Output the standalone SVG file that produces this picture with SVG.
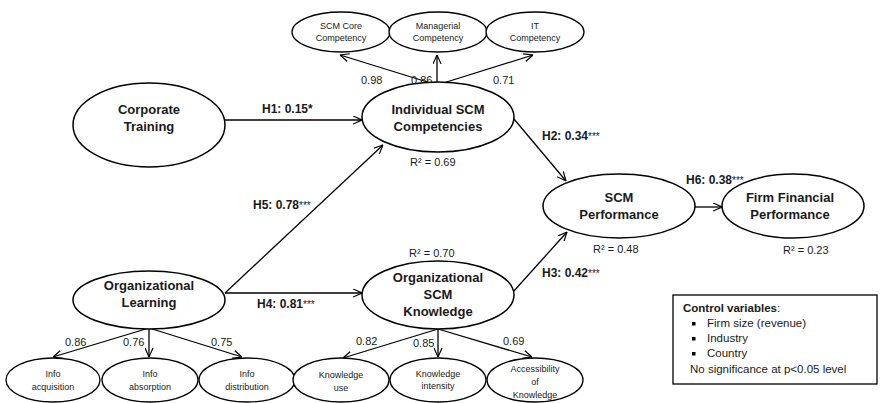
<svg xmlns="http://www.w3.org/2000/svg" width="880" height="403" viewBox="0 0 880 403">
<defs>
<style>
.e{fill:#fff;stroke:#000;stroke-width:1.5}
.es{fill:#fff;stroke:#000;stroke-width:1.3}
.c{fill:none;stroke:#000;stroke-width:1.3}
.b{font-family:"Liberation Sans",Arial,sans-serif;font-weight:bold;font-size:13px;text-anchor:middle;fill:#1a1a1a}
.s{font-family:"Liberation Sans",Arial,sans-serif;font-size:9px;text-anchor:middle;fill:#1a1a1a}
.n{font-family:"Liberation Sans",Arial,sans-serif;font-size:11px;fill:#1a1a1a}
.h{font-family:"Liberation Sans",Arial,sans-serif;font-size:12px;font-weight:bold;fill:#1a1a1a}
.st{font-weight:normal;font-size:10px}
.cv{font-family:"Liberation Sans",Arial,sans-serif;font-size:11.5px;fill:#1a1a1a}
</style>
<marker id="arr" viewBox="0 0 10 10" refX="10" refY="5" markerWidth="9" markerHeight="9" orient="auto" markerUnits="userSpaceOnUse">
<path d="M0,0.5 L10,5 L0,9.5" fill="none" stroke="#000" stroke-width="1.3"/>
</marker>
</defs>
<rect width="880" height="403" fill="#fff"/>

<g id="connectors">
<path class="c" d="M225,120 L362,120" marker-end="url(#arr)"/>
<path class="c" d="M514,119 L566,181" marker-end="url(#arr)"/>
<path class="c" d="M513,292 L567,232" marker-end="url(#arr)"/>
<path class="c" d="M695,207 L722,207" marker-end="url(#arr)"/>
<path class="c" d="M225,293 L383,145" marker-end="url(#arr)"/>
<path class="c" d="M225,293 L362,293" marker-end="url(#arr)"/>
<path class="c" d="M437,85 L340,55" marker-end="url(#arr)"/>
<path class="c" d="M437,85 L437,55" marker-end="url(#arr)"/>
<path class="c" d="M437,85 L533,55" marker-end="url(#arr)"/>
<path class="c" d="M149,328 L53,357" marker-end="url(#arr)"/>
<path class="c" d="M149,328 L149,357" marker-end="url(#arr)"/>
<path class="c" d="M149,328 L242,357" marker-end="url(#arr)"/>
<path class="c" d="M438,329 L343,358" marker-end="url(#arr)"/>
<path class="c" d="M438,329 L438,357" marker-end="url(#arr)"/>
<path class="c" d="M438,329 L532,357" marker-end="url(#arr)"/>
</g>

<g id="labels">
<text class="h" x="262" y="113">H1: 0.15*</text>
<text class="h" x="542" y="140">H2: 0.34<tspan class="st">***</tspan></text>
<text class="h" x="542" y="277">H3: 0.42<tspan class="st">***</tspan></text>
<text class="h" x="257" y="308">H4: 0.81<tspan class="st">***</tspan></text>
<text class="h" x="253" y="209">H5: 0.78<tspan class="st">***</tspan></text>
<text class="h" x="686" y="184">H6: 0.38<tspan class="st">***</tspan></text>
<text class="n" x="361" y="84">0.98</text>
<text class="n" x="411" y="84">0.86</text>
<text class="n" x="493" y="84">0.71</text>
<text class="n" x="65" y="346">0.86</text>
<text class="n" x="123" y="346">0.76</text>
<text class="n" x="211" y="346">0.75</text>
<text class="n" x="356" y="345">0.82</text>
<text class="n" x="413" y="347">0.85</text>
<text class="n" x="503" y="345">0.69</text>
<text class="n" x="410" y="166">R² = 0.69</text>
<text class="n" x="409" y="257">R² = 0.70</text>
<text class="n" x="593" y="253">R² = 0.48</text>
<text class="n" x="783" y="254">R² = 0.23</text>
</g>

<g id="corporate-training">
<ellipse class="e" cx="149" cy="125" rx="76" ry="42"/>
<text class="b" x="149" y="114">Corporate</text>
<text class="b" x="149" y="131">Training</text>
</g>
<g id="individual-scm">
<ellipse class="e" cx="438" cy="117" rx="76" ry="35"/>
<text class="b" x="438" y="114">Individual SCM</text>
<text class="b" x="438" y="131">Competencies</text>
</g>
<g id="scm-performance">
<ellipse class="e" cx="619" cy="206" rx="76" ry="32"/>
<text class="b" x="619" y="202">SCM</text>
<text class="b" x="619" y="219">Performance</text>
</g>
<g id="firm-financial">
<ellipse class="e" cx="793" cy="206" rx="71" ry="32"/>
<text class="b" x="790" y="202">Firm Financial</text>
<text class="b" x="790" y="219">Performance</text>
</g>
<g id="org-learning">
<ellipse class="e" cx="149" cy="300" rx="76" ry="29"/>
<text class="b" x="149" y="290">Organizational</text>
<text class="b" x="149" y="307">Learning</text>
</g>
<g id="org-scm-knowledge">
<ellipse class="e" cx="438" cy="295" rx="76" ry="34"/>
<text class="b" x="438" y="282">Organizational</text>
<text class="b" x="438" y="299">SCM</text>
<text class="b" x="438" y="316">Knowledge</text>
</g>

<g id="scm-core">
<ellipse class="es" cx="341" cy="32" rx="49" ry="20"/>
<text class="s" x="341" y="29">SCM Core</text>
<text class="s" x="341" y="41">Competency</text>
</g>
<g id="managerial">
<ellipse class="es" cx="438" cy="32" rx="49" ry="20"/>
<text class="s" x="438" y="29">Managerial</text>
<text class="s" x="438" y="41">Competency</text>
</g>
<g id="it-competency">
<ellipse class="es" cx="535" cy="32" rx="49" ry="20"/>
<text class="s" x="535" y="29">IT</text>
<text class="s" x="535" y="41">Competency</text>
</g>

<g id="info-acquisition">
<ellipse class="es" cx="53" cy="380" rx="47" ry="22"/>
<text class="s" x="53" y="377">Info</text>
<text class="s" x="53" y="390">acquisition</text>
</g>
<g id="info-absorption">
<ellipse class="es" cx="150" cy="380" rx="48" ry="22"/>
<text class="s" x="150" y="377">Info</text>
<text class="s" x="150" y="390">absorption</text>
</g>
<g id="info-distribution">
<ellipse class="es" cx="247" cy="380" rx="48" ry="22"/>
<text class="s" x="247" y="377">Info</text>
<text class="s" x="247" y="390">distribution</text>
</g>
<g id="knowledge-use">
<ellipse class="es" cx="341" cy="380" rx="48" ry="22"/>
<text class="s" x="341" y="378">Knowledge</text>
<text class="s" x="341" y="391">use</text>
</g>
<g id="knowledge-intensity">
<ellipse class="es" cx="438" cy="380" rx="48" ry="22"/>
<text class="s" x="438" y="377">Knowledge</text>
<text class="s" x="438" y="389">intensity</text>
</g>
<g id="accessibility">
<ellipse class="es" cx="535" cy="380" rx="48" ry="22"/>
<text class="s" x="535" y="372">Accessibility</text>
<text class="s" x="535" y="385">of</text>
<text class="s" x="535" y="398">Knowledge</text>
</g>

<g id="control-variables">
<rect x="673" y="295" width="204" height="89" fill="#fff" stroke="#000" stroke-width="1.3"/>
<text class="cv" x="683" y="312"><tspan font-weight="bold">Control variables</tspan>:</text>
<rect x="692" y="322" width="3.5" height="3.5" fill="#000"/>
<text class="cv" x="707" y="327">Firm size (revenue)</text>
<rect x="692" y="337" width="3.5" height="3.5" fill="#000"/>
<text class="cv" x="707" y="342">Industry</text>
<rect x="692" y="352" width="3.5" height="3.5" fill="#000"/>
<text class="cv" x="707" y="357">Country</text>
<text class="cv" x="690" y="373">No significance at p&lt;0.05 level</text>
</g>
</svg>
